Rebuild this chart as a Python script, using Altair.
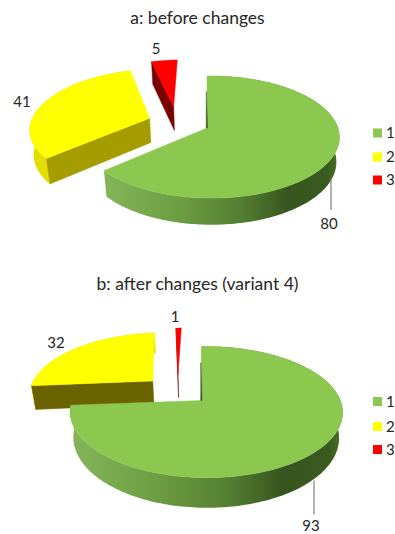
import math
import altair as alt
import pandas as pd

# Slice counts
categories = ["1", "2", "3"]
values_a = [80, 41, 5]
values_b = [93, 32, 1]
colors = ["#8CC850", "#FFFF00", "#FF0000"]
FONT = "Lato"
INK = "#262626"

# Projection of each tilted disc onto the page
disc_a = dict(cx=207, cy=128, R=127, A=59.7, p=0.1475, r=0.03, h0=23, k=0.03, top=76, lean=0.977)
disc_b = dict(cx=201.5, cy=400, R=134, A=63.5, p=0.176, r=0.035, h0=21, k=0.07, top=346, lean=0.975)

# How far each slice is pulled out of the disc, and a small sideways correction
explode_a = [(0, 0, 0), (-0.47, 0.17, 0), (-0.25, 0.38, -3.5)]
explode_b = [(0, 0, 0), (-0.39, 0.33, 0), (-0.19, 0.44, 0)]

# Shading of the large slice's outer wall, left to right
wall_stops = [(0, "#84B558"), (0.3, "#6F9F44"), (0.58, "#547F32"), (0.78, "#37561F"), (0.95, "#3A5A20"), (1, "#4C7429")]

# Key rows: swatch column, label column, and the row heights of each panel
KEY_SWATCH_X = 377.5
KEY_LABEL_X = 386
key_rows_a = [133, 157, 180]
key_rows_b = [401, 426, 449]

FRAME_A = (29.5, 255)
FRAME_B = (295, 532)


def enc_x():
    return alt.X("x:Q", scale=alt.Scale(domain=[0, 395], nice=False, zero=False), axis=None)


def enc_y(frame):
    return alt.Y("y:Q", scale=alt.Scale(domain=[frame[1], frame[0]], nice=False, zero=False), axis=None)


def project(disc, X, Y, nudge):
    w = 1 + disc["p"] * Y - disc["r"] * X
    return disc["cx"] + disc["R"] * X / w + nudge, disc["cy"] - disc["A"] * Y / w


def drop(disc, pt):
    # Lower edge of the disc's wall below a point of the top face
    x, y = pt
    h = disc["h0"] + disc["k"] * (y - disc["top"])
    return disc["cx"] + (x - disc["cx"]) * disc["lean"], y + h


def slice_geometry(disc, total, start, value, off, n=200):
    ox, oy, nudge = off
    t1 = start / total * 2 * math.pi
    t2 = (start + value) / total * 2 * math.pi
    rim = []
    for i in range(n + 1):
        t = t1 + (t2 - t1) * i / n
        rim.append(project(disc, ox + math.sin(t), oy + math.cos(t), nudge))
    return project(disc, ox, oy, nudge), rim


def polygon(points, frame, fill, stroke=None):
    df = pd.DataFrame({"x": [p[0] for p in points] + [points[0][0]],
                       "y": [p[1] for p in points] + [points[0][1]]})
    df["i"] = range(len(df))
    return (
        alt.Chart(df)
        .mark_line(fill=fill, stroke=stroke or fill, strokeWidth=0.5)
        .encode(x=enc_x(), y=enc_y(frame), order="i:Q")
    )


wall_gradient = alt.Gradient(
    gradient="linear", x1=0, x2=1, y1=0, y2=0,
    stops=[alt.GradientStop(color=c, offset=o) for o, c in wall_stops],
)


def panel(title, values, disc, explode, frame, yellow_cut, red_cut, leader, texts, key_rows):
    total = sum(values)
    starts = [sum(values[:i]) for i in range(3)]
    geo = [slice_geometry(disc, total, starts[i], values[i], explode[i]) for i in range(3)]
    layers = []

    # Walls and top faces of the pulled-out slices
    apex, rim = geo[1]
    layers.append(polygon(rim + [drop(disc, p) for p in reversed(rim)], frame, "#E4DE00"))
    layers.append(polygon([apex, rim[0], drop(disc, rim[0]), drop(disc, apex)], frame, yellow_cut))
    layers.append(polygon([apex] + rim, frame, colors[1]))

    apex, rim = geo[2]
    layers.append(polygon([apex, rim[0], drop(disc, rim[0]), drop(disc, apex)], frame, red_cut))
    layers.append(polygon([apex] + rim, frame, colors[2]))

    # The large slice: outer wall, top face, dark sliver of the cut face
    apex, rim = geo[0]
    layers.append(polygon(rim + [drop(disc, p) for p in reversed(rim)], frame, wall_gradient, "transparent"))
    layers.append(polygon([apex] + rim, frame, colors[0]))
    sliver = [(rim[0][0] - 1.2 + 1.8 * f, rim[0][1] + (apex[1] - rim[0][1]) * f) for f in (0.3, 1.0)]
    layers.append(polygon([sliver[0], sliver[1], (sliver[1][0] - 1.4, sliver[1][1])], frame, "#3A5A20"))

    # Leader line of the large slice
    lead = pd.DataFrame({"x": [leader[0]], "y": [leader[1]], "y2": [leader[2]]})
    layers.append(
        alt.Chart(lead).mark_rule(color="#7F7F7F", strokeWidth=1.2).encode(
            x=enc_x(), y=enc_y(frame), y2="y2:Q"
        )
    )

    # Value labels
    labels = pd.DataFrame({
        "value": [str(v) for v in values],
        "x": [t[0] for t in texts],
        "y": [t[1] for t in texts],
    })
    layers.append(
        alt.Chart(labels).mark_text(font=FONT, fontSize=15, color=INK).encode(
            x=enc_x(), y=enc_y(frame), text="value:N"
        )
    )

    # Colour key: swatches and their labels
    swatches = pd.DataFrame({"slice": categories, "x": [KEY_SWATCH_X] * 3, "y": key_rows})
    layers.append(alt.Chart(swatches).mark_square(size=81, opacity=1).encode(
        x=enc_x(),
        y=enc_y(frame),
        color=alt.Color("slice:N", scale=alt.Scale(domain=categories, range=colors), legend=None),
    ))
    key_labels = pd.DataFrame({"slice": categories, "x": [KEY_LABEL_X] * 3, "y": key_rows})
    layers.append(alt.Chart(key_labels).mark_text(font=FONT, fontSize=15, color=INK, align="left").encode(
        x=enc_x(), y=enc_y(frame), text="slice:N"
    ))

    return alt.layer(*layers).properties(
        width=395,
        height=frame[1] - frame[0],
        title=alt.TitleParams(
            title, font=FONT, fontSize=17.5, fontWeight="normal", color=INK, anchor="middle", offset=2
        ),
    )


top = panel(
    "a: before changes", values_a, disc_a, explode_a, FRAME_A,
    "#A59C00", "#7A0000", (331, 178, 210),
    [(329, 224), (22, 102), (156, 49)], key_rows_a,
)
bottom = panel(
    "b: after changes (variant 4)", values_b, disc_b, explode_b, FRAME_B,
    "#6B6200", "#7A0000", (314, 480, 514),
    [(311, 525), (56, 342), (175, 316)], key_rows_b,
)

chart = (
    alt.vconcat(top, bottom, spacing=20, padding={"top": 9.5, "left": 0, "right": 0, "bottom": 0}, background="white")
    .resolve_scale(color="independent")
    .configure_view(stroke=None)
)

chart.save("out.html", embed_options={"renderer": "svg", "actions": False})
